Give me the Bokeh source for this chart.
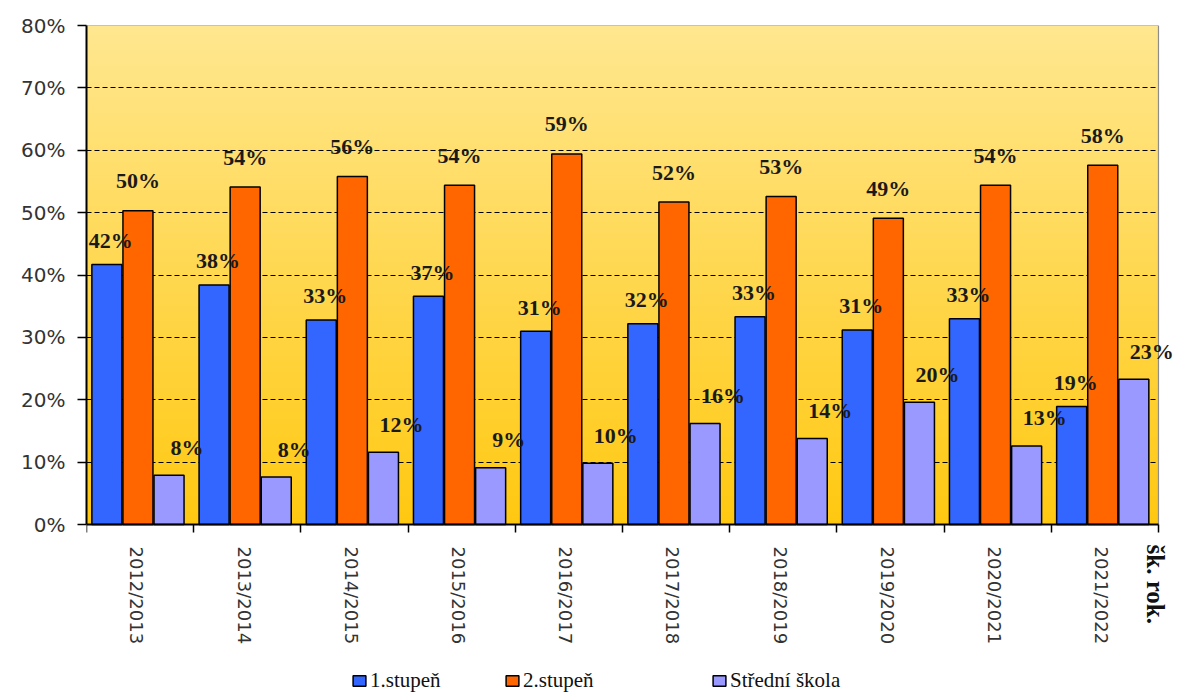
import math
import numpy as np
from bokeh.plotting import figure
from bokeh.models import (ColumnDataSource, FixedTicker, LabelSet, Label, Legend,
                          LegendItem, Range1d, CustomJSTickFormatter)
from bokeh.core.properties import value
from bokeh.embed import file_html
from bokeh.resources import INLINE

# ---------------- data ----------------
years = ["2012/2013", "2013/2014", "2014/2015", "2015/2016", "2016/2017",
         "2017/2018", "2018/2019", "2019/2020", "2020/2021", "2021/2022"]
stupen1 = [41.7, 38.4, 32.8, 36.6, 31.0, 32.2, 33.3, 31.2, 33.0, 18.9]
stupen2 = [50.3, 54.1, 55.8, 54.4, 59.4, 51.7, 52.6, 49.1, 54.4, 57.6]
stredni = [7.9, 7.6, 11.6, 9.1, 9.8, 16.2, 13.8, 19.6, 12.6, 23.3]
series_names = ["1.stupeň", "2.stupeň", "Střední škola"]
y_ticks = [0, 10, 20, 30, 40, 50, 60, 70, 80]
x_axis_title = "šk. rok."

# ---------------- layout geometry (pixels) ----------------
n = len(years)
W, H = 1178, 695
frame_left, frame_top = 87, 25
plot_right_px, zero_px = 1158, 524          # where x=n and y=0 fall
px_per_x = (plot_right_px - frame_left) / n
px_per_y = (zero_px - frame_top) / 80.0
x_max = n + (W - plot_right_px) / px_per_x
y_min = -(H - zero_px) / px_per_y

p = figure(width=W, height=H, x_range=Range1d(0, x_max), y_range=Range1d(y_min, 80),
           output_backend="svg", toolbar_location=None,
           min_border_left=frame_left - 1, min_border_right=0,
           min_border_top=frame_top, min_border_bottom=0)
p.background_fill_color = "white"
p.border_fill_color = "white"
p.outline_line_color = None

# gradient background of the plot area (style only)
steps = 160
edges = np.linspace(0, 80, steps + 1)
top_c = np.array([0xFF, 0xE7, 0x90], dtype=float)
bot_c = np.array([0xFF, 0xC8, 0x10], dtype=float)
cols = []
for k in range(steps):
    t = ((edges[k] + edges[k + 1]) / 2) / 80.0
    c = bot_c + (top_c - bot_c) * t
    cols.append("#%02x%02x%02x" % tuple(int(round(v)) for v in c))
p.quad(left=0, right=n, bottom=edges[:-1], top=np.minimum(edges[1:] + 0.3, 80),
       fill_color=cols, line_color=None, level="image")
# plot-area border (top and right)
p.segment(x0=[0, n], y0=[80, 0], x1=[n, n], y1=[80, 80],
          line_color="#8c8c8c", line_width=1.2, level="underlay")

# ---------------- bars ----------------
xs = np.arange(n)
def lbl(vals):
    return ["%d%%" % int(v + 0.5) for v in vals]

src = ColumnDataSource(dict(
    x1=xs + 0.19, x2=xs + 0.48, x3=xs + 0.77,
    s1=stupen1, s2=stupen2, s3=stredni,
    t1=lbl(stupen1), t2=lbl(stupen2), t3=lbl(stredni)))

bw = 0.28
r1 = p.vbar(x="x1", top="s1", bottom=0, width=bw, source=src,
            fill_color="#3366FF", line_color="black", line_width=1.5)
r2 = p.vbar(x="x2", top="s2", bottom=0, width=bw, source=src,
            fill_color="#FF6600", line_color="black", line_width=1.5)
r3 = p.vbar(x="x3", top="s3", bottom=0, width=bw, source=src,
            fill_color="#9999FF", line_color="black", line_width=1.5)

# ---------------- data labels ----------------
for xcol, ycol, tcol, dx, dy in [("x1", "s1", "t1", 4, 24),
                                  ("x2", "s2", "t2", 0, 30),
                                  ("x3", "s3", "t3", 18, 28)]:
    ls = LabelSet(x=xcol, y=ycol, text=tcol, source=src, x_offset=dx, y_offset=dy,
                  text_align="center", text_baseline="middle",
                  text_font=value("Liberation Serif"), text_font_style="bold",
                  text_font_size="22px", text_color="#1a1a1a")
    p.add_layout(ls)

# ---------------- axes ----------------
p.yaxis.bounds = (0, 80)
p.yaxis.ticker = FixedTicker(ticks=y_ticks)
p.yaxis.formatter = CustomJSTickFormatter(code="return tick.toFixed(0) + '%';")
p.yaxis.major_label_text_font = "DejaVu Sans"
p.yaxis.major_label_text_font_size = "20px"
p.yaxis.major_label_text_color = "#333333"
p.yaxis.major_tick_out = 9
p.yaxis.major_tick_in = 0
p.yaxis.minor_tick_out = 0
p.yaxis.minor_tick_in = 0
p.yaxis.major_label_standoff = 12
p.yaxis.axis_line_color = "black"
p.yaxis.axis_line_width = 2
p.yaxis.major_tick_line_color = "black"
p.yaxis.major_tick_line_width = 1.5

p.xaxis.fixed_location = 0
p.xaxis.bounds = (0, n)
p.xaxis.ticker = FixedTicker(ticks=[i + 0.47 for i in range(n)],
                             minor_ticks=list(range(n + 1)))
p.xaxis.formatter = CustomJSTickFormatter(args=dict(labels=years),
                                          code="return labels[Math.floor(tick)] || '';")
p.xaxis.major_label_orientation = -math.pi / 2
p.xaxis.major_label_text_font = "DejaVu Sans"
p.xaxis.major_label_text_font_size = "18px"
p.xaxis.major_label_text_color = "#333333"
p.xaxis.major_tick_out = 0
p.xaxis.major_tick_in = 0
p.xaxis.minor_tick_out = 8
p.xaxis.minor_tick_in = 0
p.xaxis.minor_tick_line_color = "black"
p.xaxis.minor_tick_line_width = 1.5
p.xaxis.major_label_standoff = 14
p.xaxis.axis_line_color = "black"
p.xaxis.axis_line_width = 2

# ---------------- grid ----------------
p.xgrid.visible = False
p.ygrid.ticker = FixedTicker(ticks=y_ticks[1:-1])
p.ygrid.cross_bounds = (0, n)
p.ygrid.grid_line_color = "black"
p.ygrid.grid_line_dash = "5 3"
p.ygrid.grid_line_width = 1

# axis title at right end
p.add_layout(Label(x=n, y=0, x_offset=-3, y_offset=-20, text=x_axis_title,
                   angle=-math.pi / 2, text_align="left", text_baseline="middle",
                   text_font="Liberation Serif", text_font_style="bold",
                   text_font_size="25px", text_color="#111111"))

# ---------------- legend ----------------
for r, name, xpos in [(r1, series_names[0], 265), (r2, series_names[1], 418),
                      (r3, series_names[2], 625)]:
    lg = Legend(items=[LegendItem(label=value(name), renderers=[r])],
                location=(xpos, 2), orientation="horizontal",
                border_line_color=None, background_fill_alpha=0,
                padding=0, margin=0, spacing=0,
                glyph_width=16, glyph_height=13, label_standoff=3,
                label_text_font="Liberation Serif", label_text_font_size="21px",
                label_text_color="#111111")
    p.add_layout(lg, "center")

open("out.html", "w").write(file_html(p, INLINE))
